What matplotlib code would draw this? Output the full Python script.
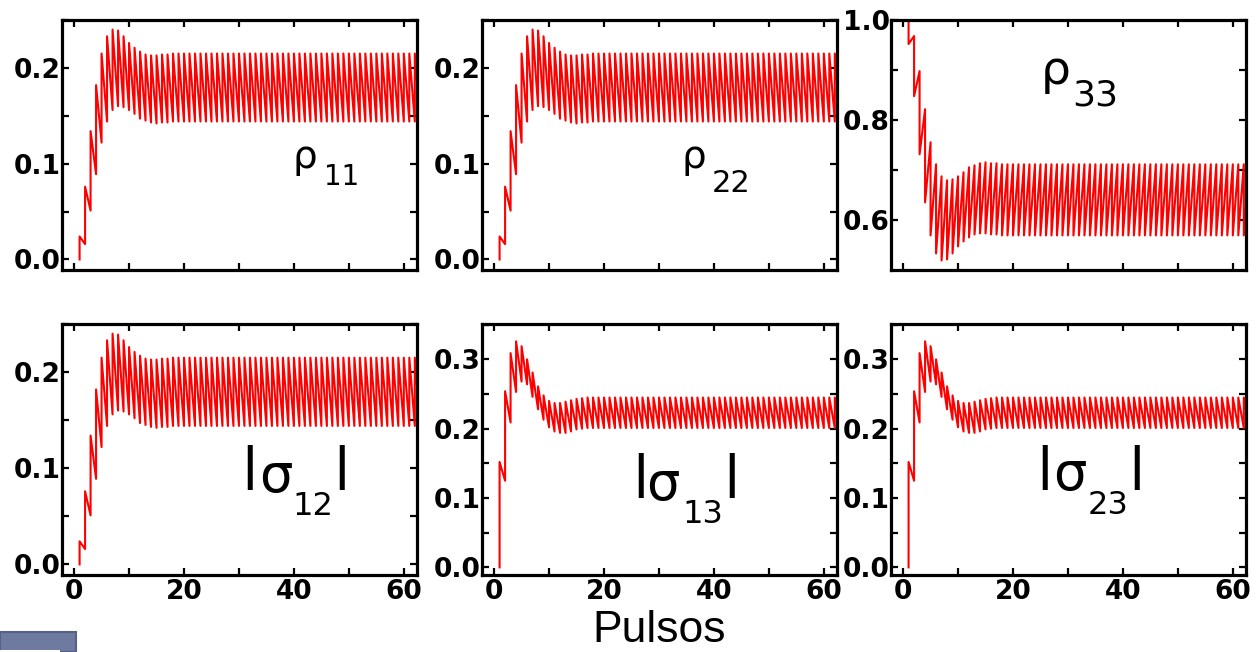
import numpy as np
import matplotlib.pyplot as plt
from matplotlib.ticker import MultipleLocator, FormatStrFormatter
from matplotlib.patches import Rectangle

# pulse index (one sawtooth tooth per pulse)
pulses = list(range(1, 64))

# populations rho11 = rho22 and |sigma12| : value just before / just after each pulse
rho_before = [0.000, 0.016, 0.051, 0.089, 0.122, 0.144, 0.156, 0.160, 0.159, 0.156,
              0.152, 0.147, 0.145, 0.143, 0.142, 0.143, 0.143, 0.144,
              0.144, 0.144, 0.144, 0.144, 0.144, 0.144, 0.144, 0.144, 0.144, 0.144,
              0.144, 0.144, 0.144, 0.144, 0.144, 0.144, 0.144, 0.144, 0.144, 0.144,
              0.144, 0.144, 0.144, 0.144, 0.144, 0.144, 0.144, 0.144, 0.144, 0.144,
              0.144, 0.144, 0.144, 0.144, 0.144, 0.144, 0.144, 0.144, 0.144, 0.144,
              0.144, 0.144, 0.144, 0.144, 0.144]
rho_after = [0.024, 0.076, 0.134, 0.182, 0.215, 0.233, 0.240, 0.239, 0.233, 0.226,
             0.221, 0.217, 0.214, 0.213, 0.213, 0.214, 0.214, 0.215,
             0.215, 0.215, 0.215, 0.215, 0.215, 0.215, 0.215, 0.215, 0.215, 0.215,
             0.215, 0.215, 0.215, 0.215, 0.215, 0.215, 0.215, 0.215, 0.215, 0.215,
             0.215, 0.215, 0.215, 0.215, 0.215, 0.215, 0.215, 0.215, 0.215, 0.215,
             0.215, 0.215, 0.215, 0.215, 0.215, 0.215, 0.215, 0.215, 0.215, 0.215,
             0.215, 0.215, 0.215, 0.215, 0.215]

# rho33
rho33_before = [1.000, 0.968, 0.898, 0.822, 0.756, 0.712, 0.688, 0.680, 0.682, 0.688,
                0.696, 0.706, 0.710, 0.714, 0.716, 0.714, 0.714, 0.712,
                0.712, 0.712, 0.712, 0.712, 0.712, 0.712, 0.712, 0.712, 0.712, 0.712,
                0.712, 0.712, 0.712, 0.712, 0.712, 0.712, 0.712, 0.712, 0.712, 0.712,
                0.712, 0.712, 0.712, 0.712, 0.712, 0.712, 0.712, 0.712, 0.712, 0.712,
                0.712, 0.712, 0.712, 0.712, 0.712, 0.712, 0.712, 0.712, 0.712, 0.712,
                0.712, 0.712, 0.712, 0.712, 0.712]
rho33_after = [0.952, 0.848, 0.732, 0.636, 0.570, 0.534, 0.520, 0.522, 0.534, 0.548,
               0.558, 0.566, 0.572, 0.574, 0.574, 0.572, 0.572, 0.570,
               0.570, 0.570, 0.570, 0.570, 0.570, 0.570, 0.570, 0.570, 0.570, 0.570,
               0.570, 0.570, 0.570, 0.570, 0.570, 0.570, 0.570, 0.570, 0.570, 0.570,
               0.570, 0.570, 0.570, 0.570, 0.570, 0.570, 0.570, 0.570, 0.570, 0.570,
               0.570, 0.570, 0.570, 0.570, 0.570, 0.570, 0.570, 0.570, 0.570, 0.570,
               0.570, 0.570, 0.570, 0.570, 0.570]

# coherences |sigma13| = |sigma23|
sig_before = [0.000, 0.125, 0.209, 0.253, 0.268, 0.264, 0.246, 0.228, 0.213, 0.202,
              0.196, 0.194, 0.194, 0.196, 0.199, 0.200, 0.201, 0.201,
              0.201, 0.201, 0.201, 0.201, 0.201, 0.201, 0.201, 0.201, 0.201, 0.201,
              0.201, 0.201, 0.201, 0.201, 0.201, 0.201, 0.201, 0.201, 0.201, 0.201,
              0.201, 0.201, 0.201, 0.201, 0.201, 0.201, 0.201, 0.201, 0.201, 0.201,
              0.201, 0.201, 0.201, 0.201, 0.201, 0.201, 0.201, 0.201, 0.201, 0.201,
              0.201, 0.201, 0.201, 0.201, 0.201]
sig_after = [0.152, 0.254, 0.309, 0.326, 0.319, 0.300, 0.281, 0.261, 0.248, 0.240,
             0.237, 0.237, 0.239, 0.241, 0.243, 0.244, 0.245, 0.245,
             0.245, 0.245, 0.245, 0.245, 0.245, 0.245, 0.245, 0.245, 0.245, 0.245,
             0.245, 0.245, 0.245, 0.245, 0.245, 0.245, 0.245, 0.245, 0.245, 0.245,
             0.245, 0.245, 0.245, 0.245, 0.245, 0.245, 0.245, 0.245, 0.245, 0.245,
             0.245, 0.245, 0.245, 0.245, 0.245, 0.245, 0.245, 0.245, 0.245, 0.245,
             0.245, 0.245, 0.245, 0.245, 0.245]

W, H = 1256, 652
fig = plt.figure(figsize=(W / 100, H / 100), dpi=100)

lefts = [62, 482, 891]
aw = 355
rows = [(20, 270), (324, 575)]

panels = [
    (0, 0, rho_before, rho_after, (-0.011, 0.25), 0.1, 0.05),
    (0, 1, rho_before, rho_after, (-0.011, 0.25), 0.1, 0.05),
    (0, 2, rho33_before, rho33_after, (0.501, 1.0), 0.2, 0.1),
    (1, 0, rho_before, rho_after, (-0.011, 0.25), 0.1, 0.05),
    (1, 1, sig_before, sig_after, (-0.011, 0.351), 0.1, 0.05),
    (1, 2, sig_before, sig_after, (-0.011, 0.351), 0.1, 0.05),
]

for r, c, before, after, ylim, major, minor in panels:
    top, bot = rows[r]
    ax = fig.add_axes([lefts[c] / W, 1 - bot / H, aw / W, (bot - top) / H])
    x = np.repeat(pulses, 2)
    y = np.column_stack([before, after]).ravel()
    ax.plot(x, y, color='red', lw=1.5)
    ax.set_xlim(-2.2, 62.4)
    ax.set_ylim(*ylim)
    ax.xaxis.set_major_locator(MultipleLocator(20))
    ax.xaxis.set_minor_locator(MultipleLocator(10))
    ax.yaxis.set_major_locator(MultipleLocator(major))
    ax.yaxis.set_minor_locator(MultipleLocator(minor))
    ax.yaxis.set_major_formatter(FormatStrFormatter('%.1f'))
    ax.tick_params(which='both', direction='in', top=True, right=True,
                   width=1.6, length=5, labelsize=19, pad=3)
    ax.tick_params(axis='y', pad=1)
    if r == 0:
        ax.tick_params(axis='x', labelbottom=False)
    for s in ax.spines.values():
        s.set_linewidth(2.3)
    for lab in ax.get_xticklabels() + ax.get_yticklabels():
        lab.set_fontweight('bold')
        lab.set_family('DejaVu Sans')

# panel labels, built from pieces: (text, centre x px, baseline y px, size, weight)
label_pieces = [
    ('ρ', 305, 168, 28, 'normal'), ('11', 341.5, 185, 20, 'normal'),
    ('ρ', 694, 168, 28, 'normal'), ('22', 731.5, 192, 22, 'normal'),
    ('ρ', 1055.5, 84, 34, 'normal'), ('33', 1095, 105, 26, 'normal'),
    ('|', 249.5, 479, 32.5, 'bold'), ('σ', 275.5, 492, 38, 'normal'),
    ('12', 313, 515, 23, 'normal'), ('|', 341.5, 479, 32.5, 'bold'),
    ('|', 640, 487, 32.5, 'bold'), ('σ', 663, 500, 38, 'normal'),
    ('13', 703, 523, 23, 'normal'), ('|', 731.5, 487, 32.5, 'bold'),
    ('|', 1045, 479, 32.5, 'bold'), ('σ', 1070, 490, 38, 'normal'),
    ('23', 1108, 514, 23, 'normal'), ('|', 1136.5, 479, 32.5, 'bold'),
]
for txt, px, py, size, weight in label_pieces:
    fig.text(px / W, 1 - py / H, txt, fontsize=size, fontweight=weight,
             family='DejaVu Sans', ha='center', va='baseline')

fig.text(659 / W, 1 - 642 / H, 'Pulsos', fontsize=32, family='Liberation Sans',
         ha='center', va='baseline')

# slide artefact in the lower-left corner
fig.patches.append(Rectangle((0, 0), 76 / W, 20 / H, transform=fig.transFigure,
                             facecolor='#6f7aa0', edgecolor='#596088', lw=1.5))
fig.patches.append(Rectangle((0, 0), 60 / W, 2 / H, transform=fig.transFigure,
                             facecolor='white', edgecolor='none'))

fig.savefig('out.png', dpi=100)
